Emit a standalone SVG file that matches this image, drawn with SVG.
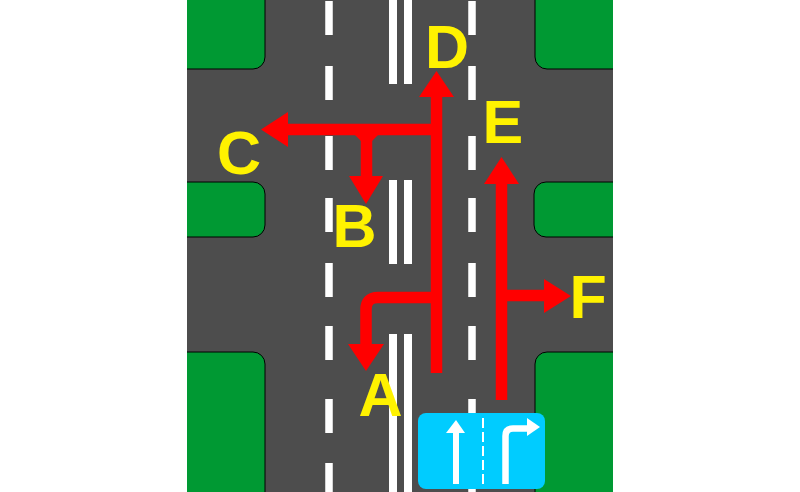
<svg xmlns="http://www.w3.org/2000/svg" width="800" height="492" viewBox="0 0 800 492">
<style>
.green{fill:#009933;stroke:#000;stroke-width:1}
.dash{stroke:#fff;stroke-width:7.500;fill:none}
.solid{fill:#fff}
.red{fill:none;stroke:#f00;stroke-width:11.500}
.head{fill:#f00}
.lbl{font-family:"Liberation Sans",Arial,sans-serif;font-weight:700;font-size:61px;fill:#fff200}
</style>
<rect width="800" height="492" fill="#fff"/>
<g id="road">
<rect x="187" y="0" width="426" height="492" fill="#4d4d4d"/>
</g>
<g id="verges">
<path class="green" d="M180 -2H265V57A12 12 0 0 1 253 69H180Z"/>
<path class="green" d="M180 182H253A12 12 0 0 1 265 194V225A12 12 0 0 1 253 237H180Z"/>
<path class="green" d="M180 352H253A12 12 0 0 1 265 364V494H180Z"/>
<path class="green" d="M620 -2H535V57A12 12 0 0 0 547 69H620Z"/>
<path class="green" d="M620 182H546A12 12 0 0 0 534 194V225A12 12 0 0 0 546 237H620Z"/>
<path class="green" d="M620 352H547A12 12 0 0 0 535 364V494H620Z"/>
<rect x="0" y="0" width="187" height="492" fill="#fff"/>
<rect x="613" y="0" width="187" height="492" fill="#fff"/>
</g>
<g id="markings">
<path class="dash" d="M329 1V35M329 66V100M329 136V170M329 198V232M329 263V297M329 326V360M329 399V433M329 463V492"/>
<path class="dash" d="M472 1V35M472 66V100M472 136V170M472 198V232M472 263V297M472 326V360M472 399V433M472 463V492"/>
<rect class="solid" x="389" y="0" width="8" height="84"/>
<rect class="solid" x="404" y="0" width="8" height="84"/>
<rect class="solid" x="389" y="180" width="8" height="84"/>
<rect class="solid" x="404" y="180" width="8" height="84"/>
<rect class="solid" x="389" y="334" width="8" height="158"/>
<rect class="solid" x="404" y="334" width="8" height="158"/>
</g>
<g id="connectors">
<path class="red" d="M436.500 373V95"/>
<path class="head" d="M436.500 71L454 97H419Z"/>
<path class="red" d="M436.500 129.500H286"/>
<path class="head" d="M261 129.500L288 112V147Z"/>
<path class="red" d="M366.500 129.500V178"/>
<path class="head" d="M355 135H378L372 141H361Z"/>
<path class="head" d="M366 204L349 176H383Z"/>
<path class="red" d="M436.500 297.500H378Q366 297.500 366 309.500V346"/>
<path class="head" d="M366 371L348 344H384Z"/>
<path class="red" d="M501.500 400V182"/>
<path class="head" d="M501.500 157L519 184H484Z"/>
<path class="red" d="M501.500 295.500H546"/>
<path class="head" d="M571 296L544 279V313Z"/>
</g>
<g id="sign">
<rect x="418" y="413" width="127" height="76" rx="8" fill="#00ccff"/>
<path d="M483 418V486" stroke="#fff" stroke-width="2" stroke-dasharray="10 4" fill="none"/>
<path d="M456 484V431" stroke="#fff" stroke-width="6" fill="none"/>
<path d="M456 420L465 433H446Z" fill="#fff"/>
<path d="M505.500 484V436Q505.500 428.500 513 428.500H529" stroke="#fff" stroke-width="6.500" fill="none"/>
<path d="M540 427L527 418V436Z" fill="#fff"/>
</g>
<g id="labels">
<text class="lbl" x="358.500" y="416">A</text>
<text class="lbl" x="332.500" y="247">B</text>
<text class="lbl" x="217" y="174">C</text>
<text class="lbl" x="425" y="68">D</text>
<text class="lbl" x="482.500" y="143">E</text>
<text class="lbl" x="569.500" y="318">F</text>
</g>
</svg>
